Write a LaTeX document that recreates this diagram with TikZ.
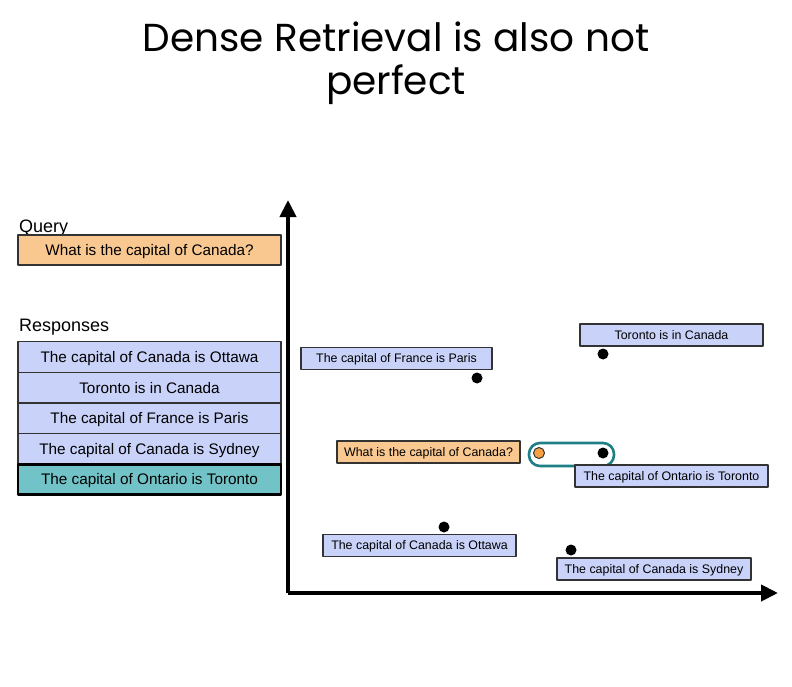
\documentclass[tikz,border=0pt]{standalone}
\usepackage{fontspec}
\setmainfont{Liberation Sans}
\newfontfamily\titlefont{Poppins}
\usetikzlibrary{arrows.meta}
\definecolor{boxblue}{HTML}{C9D2F8}
\definecolor{boxorange}{HTML}{F9C891}
\definecolor{boxteal}{HTML}{72C3C7}
\definecolor{pillteal}{HTML}{1E7F86}
\definecolor{dotorange}{HTML}{F5A043}
\definecolor{boxline}{HTML}{333333}
\begin{document}
\begin{tikzpicture}
	[
		x=1pt,
		y=-1pt,
		line join=round,
		>={Triangle[length=17pt,width=16pt]},
		respbox/.style={draw=boxline,line width=1.2pt,fill=boxblue,inner sep=0pt,
			minimum width=263pt,minimum height=30.6pt,text height=11pt,text depth=0pt,
			font=\fontsize{15.3}{18}\selectfont},
		plotbox/.style={draw=boxline,line width=1.2pt,fill=boxblue,inner sep=0pt,
			minimum height=22pt,text height=8.9pt,text depth=0pt,
			font=\fontsize{12.4}{15}\selectfont},
		dot/.style={circle,fill=black,inner sep=0pt,minimum size=11pt},
		heading/.style={anchor=base west,inner sep=0pt,font=\fontsize{18}{21}\selectfont}
	]
		\useasboundingbox (0,0) rectangle (792,687);
		% title
		\node[anchor=base,font=\titlefont\fontsize{39}{44}\selectfont] (title1) at (396,52) {Dense Retrieval is also not};
		\node[anchor=base,font=\titlefont\fontsize{39}{44}\selectfont] (title2) at (396,95) {perfect};
		% left column
		\node[heading] (querylabel) at (19,232) {Query};
		\node[respbox,fill=boxorange,minimum height=30pt] (query) at (149.5,250) {What is the capital of Canada?};
		\node[heading] (resplabel) at (19,331) {Responses};
		\node[respbox] (resp1) at (149.5,357) {The capital of Canada is Ottawa};
		\node[respbox] (resp2) at (149.5,387.6) {Toronto is in Canada};
		\node[respbox] (resp3) at (149.5,418.2) {The capital of France is Paris};
		\node[respbox] (resp4) at (149.5,448.8) {The capital of Canada is Sydney};
		\node[respbox,fill=boxteal,draw=black,line width=2.8pt] (resp5) at (149.5,479.4) {The capital of Ontario is Toronto};
		% axes
		\coordinate (origin) at (288,593);
		\coordinate (ytip) at (288,200);
		\coordinate (xtip) at (778,593);
		\draw[->,line width=4pt] (origin) -- (ytip);
		\draw[->,line width=4pt] (origin) -- (xtip);
		% embedded points
		\node[plotbox,minimum width=191pt] (paris) at (396.5,358.5) {The capital of France is Paris};
		\node[dot] (parisdot) at (477,378) {};
		\node[plotbox,minimum width=183pt] (toronto) at (671.5,335) {Toronto is in Canada};
		\node[dot] (torontodot) at (603,354) {};
		\node[plotbox,fill=boxorange,minimum width=183pt] (qpoint) at (428.5,452) {What is the capital of Canada?};
		\node[draw=pillteal,line width=2.6pt,rounded corners=11pt,minimum width=85pt,minimum height=23pt] (pill) at (571.5,454.5) {};
		\node[circle,draw=boxline,line width=1pt,fill=dotorange,inner sep=0pt,minimum size=11pt] (qdot) at (539,453) {};
		\node[dot] (ontariodot) at (603,453) {};
		\node[plotbox,minimum width=193pt] (ontario) at (671.5,476) {The capital of Ontario is Toronto};
		\node[dot] (ottawadot) at (444,527) {};
		\node[plotbox,minimum width=193pt] (ottawa) at (419.5,545.5) {The capital of Canada is Ottawa};
		\node[dot] (sydneydot) at (571,550) {};
		\node[plotbox,minimum width=194pt] (sydney) at (654,569) {The capital of Canada is Sydney};
	\end{tikzpicture}
\end{document}
